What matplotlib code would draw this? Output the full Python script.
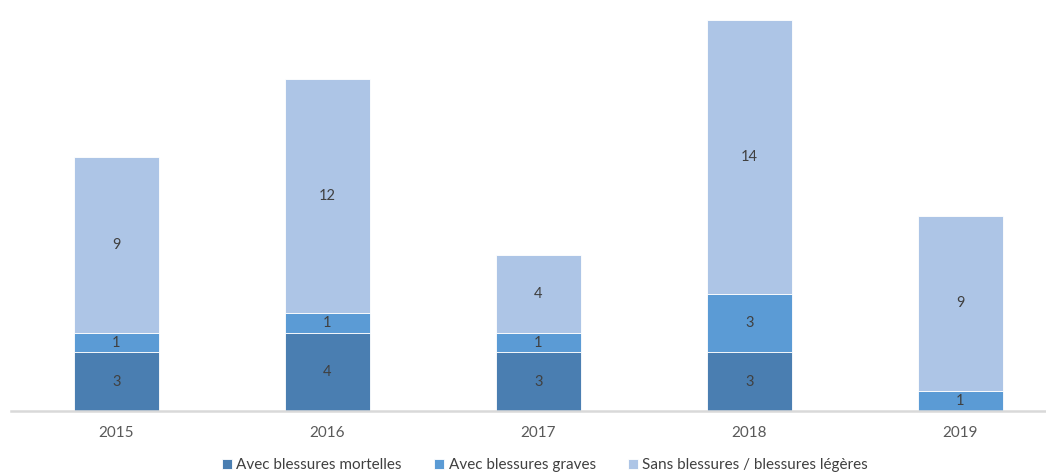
import matplotlib
matplotlib.use("Agg")
import matplotlib.pyplot as plt
import numpy as np

years = ["2015", "2016", "2017", "2018", "2019"]
mortelles = [3, 4, 3, 3, 0]
graves = [1, 1, 1, 3, 1]
sans = [9, 12, 4, 14, 9]

series = [
    ("Avec blessures mortelles", mortelles, "#4a7eb1"),
    ("Avec blessures graves", graves, "#5b9bd5"),
    ("Sans blessures / blessures légères", sans, "#adc5e6"),
]

plt.rcParams["font.family"] = ["Lato", "DejaVu Sans"]

fig = plt.figure(figsize=(10.46, 4.76), dpi=100)
W, H = 1046, 476
ax = fig.add_axes([11 / W, (H - 411) / H, 1055 / W, 391 / H])

x = np.arange(len(years))
bottom = np.zeros(len(years))
for name, vals, color in series:
    vals = np.array(vals, dtype=float)
    ax.bar(x, vals, width=0.4, bottom=bottom, color=color, label=name,
           edgecolor="white", linewidth=0.6)
    for xi, b, v in zip(x, bottom, vals):
        if v > 0:
            ax.text(xi, b + v / 2, f"{int(v)}", ha="center", va="center",
                    fontsize=10.5, color="#404040")
    bottom += vals

ax.set_xlim(-0.5, len(years) - 0.5)
ax.set_ylim(0, 20)
ax.set_yticks([])
ax.set_xticks(x)
ax.set_xticklabels(years, fontsize=11, color="#595959")
ax.tick_params(axis="x", length=0, pad=11)
for side in ["top", "right", "left"]:
    ax.spines[side].set_visible(False)
ax.spines["bottom"].set_color("#d9d9d9")
ax.spines["bottom"].set_linewidth(1.8)

handles, labels = ax.get_legend_handles_labels()
fig.legend(handles, labels, loc="center", bbox_to_anchor=(545 / W, 1 - 465 / H),
           ncol=3, frameon=False, fontsize=11, handlelength=0.65, handleheight=0.65,
           handletextpad=0.3, columnspacing=2.1, labelcolor="#404040")

fig.savefig("out.png", dpi=100)
